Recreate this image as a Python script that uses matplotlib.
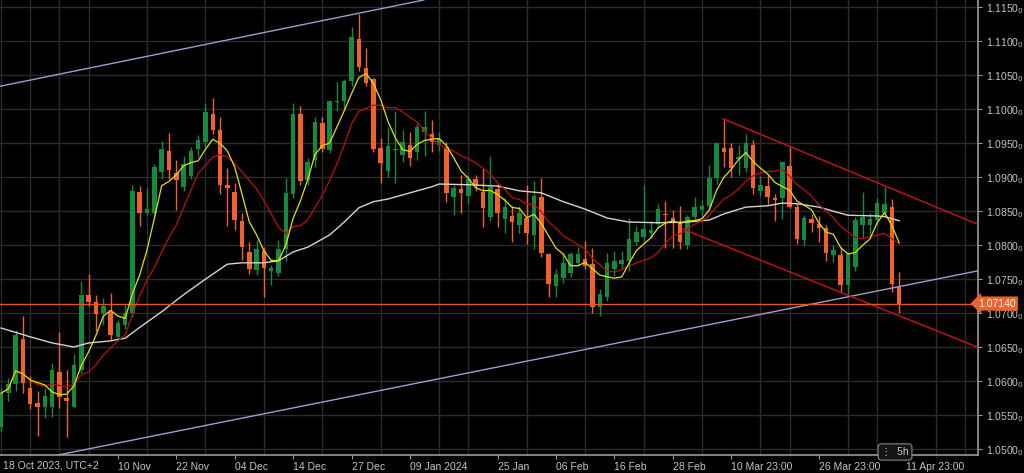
"""EUR/USD daily candles with moving averages and trend channels."""

import numpy as np
import pandas as pd
import matplotlib
matplotlib.use('Agg')
import matplotlib.pyplot as plt
import matplotlib.transforms as mtransforms
from matplotlib.ticker import MultipleLocator, FuncFormatter

plt.rcParams['font.family'] = ['Liberation Sans', 'DejaVu Sans']

# daily OHLC, 19 Oct 2023 .. 11 Apr 2024
opens = [
    1.0532, 1.0582, 1.0595, 1.0662, 1.0590, 1.0567, 1.0562, 1.0562, 1.0613, 1.0575,
    1.0562, 1.0616, 1.0726, 1.0716, 1.0700, 1.0702, 1.0665, 1.0683, 1.0700, 1.0878,
    1.0848, 1.0848, 1.0908, 1.0939, 1.0906, 1.0886, 1.0902, 1.0941, 1.0952, 1.0993,
    1.0970, 1.0888, 1.0878, 1.0836, 1.0790, 1.0764, 1.0791, 1.0762, 1.0759, 1.0795,
    1.0876, 1.0993, 1.0896, 1.0925, 1.0980, 1.0940, 1.1011, 1.1012, 1.1042, 1.1104,
    1.1061, 1.1045, 1.0943, 1.0909, 1.0940, 1.0933, 1.0948, 1.0937, 1.0966, 1.0964,
    1.0948, 1.0945, 1.0871, 1.0883, 1.0873, 1.0897, 1.0878, 1.0841, 1.0883, 1.0839,
    1.0843, 1.0830, 1.0840, 1.0815, 1.0871, 1.0787, 1.0740, 1.0752, 1.0759, 1.0774,
    1.0779, 1.0772, 1.0709, 1.0724, 1.0765, 1.0772, 1.0777, 1.0805, 1.0812, 1.0818,
    1.0831, 1.0846, 1.0840, 1.0831, 1.0800, 1.0841, 1.0852, 1.0857, 1.0899, 1.0943,
    1.0943, 1.0927, 1.0913, 1.0948, 1.0880, 1.0887, 1.0870, 1.0869, 1.0917, 1.0856,
    1.0808, 1.0838, 1.0831, 1.0826, 1.0786, 1.0786, 1.0741, 1.0768, 1.0830, 1.0830,
    1.0837, 1.0847, 1.0856, 1.0739]
highs = [
    1.0590, 1.0605, 1.0675, 1.0695, 1.0607, 1.0585, 1.0590, 1.0627, 1.0672, 1.0616,
    1.0640, 1.0747, 1.0757, 1.0727, 1.0722, 1.0730, 1.0690, 1.0712, 1.0888, 1.0887,
    1.0884, 1.0920, 1.0954, 1.0965, 1.0926, 1.0932, 1.0945, 1.0962, 1.1009, 1.1017,
    1.0989, 1.0914, 1.0892, 1.0848, 1.0804, 1.0807, 1.0798, 1.0771, 1.0808, 1.0899,
    1.1009, 1.1005, 1.0928, 1.0988, 1.0988, 1.1012, 1.1040, 1.1045, 1.1121, 1.1140,
    1.1090, 1.1046, 1.0958, 1.0974, 1.0998, 1.0970, 1.0966, 1.0980, 1.0998, 1.0984,
    1.0966, 1.0952, 1.0888, 1.0903, 1.0904, 1.0903, 1.0913, 1.0932, 1.0890, 1.0870,
    1.0858, 1.0858, 1.0888, 1.0895, 1.0899, 1.0788, 1.0765, 1.0788, 1.0790, 1.0797,
    1.0806, 1.0796, 1.0736, 1.0789, 1.0791, 1.0791, 1.0840, 1.0828, 1.0889, 1.0836,
    1.0860, 1.0865, 1.0852, 1.0858, 1.0845, 1.0871, 1.0866, 1.0918, 1.0951, 1.0984,
    1.0950, 1.0948, 1.0963, 1.0955, 1.0902, 1.0905, 1.0876, 1.0924, 1.0945, 1.0862,
    1.0845, 1.0846, 1.0843, 1.0830, 1.0800, 1.0798, 1.0790, 1.0842, 1.0878, 1.0848,
    1.0869, 1.0886, 1.0868, 1.0760]
lows = [
    1.0525, 1.0570, 1.0585, 1.0583, 1.0559, 1.0519, 1.0545, 1.0547, 1.0560, 1.0517,
    1.0560, 1.0612, 1.0710, 1.0674, 1.0683, 1.0661, 1.0661, 1.0677, 1.0694, 1.0828,
    1.0845, 1.0845, 1.0898, 1.0898, 1.0852, 1.0880, 1.0898, 1.0930, 1.0945, 1.0964,
    1.0876, 1.0828, 1.0822, 1.0778, 1.0758, 1.0756, 1.0724, 1.0741, 1.0754, 1.0776,
    1.0870, 1.0889, 1.0888, 1.0915, 1.0937, 1.0935, 1.0998, 1.1000, 1.1035, 1.1056,
    1.1035, 1.0937, 1.0892, 1.0900, 1.0892, 1.0923, 1.0917, 1.0925, 1.0932, 1.0937,
    1.0938, 1.0864, 1.0844, 1.0847, 1.0860, 1.0880, 1.0827, 1.0836, 1.0827, 1.0818,
    1.0804, 1.0818, 1.0802, 1.0795, 1.0783, 1.0724, 1.0723, 1.0745, 1.0753, 1.0770,
    1.0765, 1.0700, 1.0695, 1.0718, 1.0755, 1.0765, 1.0762, 1.0800, 1.0805, 1.0810,
    1.0827, 1.0796, 1.0796, 1.0795, 1.0795, 1.0835, 1.0840, 1.0852, 1.0890, 1.0915,
    1.0900, 1.0904, 1.0908, 1.0876, 1.0872, 1.0860, 1.0836, 1.0838, 1.0854, 1.0802,
    1.0800, 1.0820, 1.0805, 1.0777, 1.0775, 1.0731, 1.0725, 1.0762, 1.0810, 1.0810,
    1.0830, 1.0845, 1.0731, 1.0700]
closes = [
    1.0582, 1.0595, 1.0668, 1.0597, 1.0566, 1.0562, 1.0578, 1.0616, 1.0577, 1.0570,
    1.0624, 1.0727, 1.0717, 1.0698, 1.0710, 1.0668, 1.0685, 1.0700, 1.0880, 1.0848,
    1.0853, 1.0915, 1.0942, 1.0911, 1.0896, 1.0920, 1.0939, 1.0955, 1.0996, 1.0970,
    1.0889, 1.0884, 1.0837, 1.0797, 1.0765, 1.0794, 1.0766, 1.0766, 1.0795, 1.0877,
    1.0993, 1.0895, 1.0922, 1.0981, 1.0942, 1.1012, 1.1013, 1.1041, 1.1107, 1.1062,
    1.1039, 1.0942, 1.0921, 1.0946, 1.0942, 1.0952, 1.0929, 1.0974, 1.0974, 1.0952,
    1.0956, 1.0877, 1.0884, 1.0877, 1.0898, 1.0887, 1.0855, 1.0886, 1.0847, 1.0856,
    1.0834, 1.0847, 1.0818, 1.0872, 1.0788, 1.0743, 1.0757, 1.0774, 1.0787, 1.0787,
    1.0769, 1.0709, 1.0728, 1.0774, 1.0777, 1.0778, 1.0809, 1.0820, 1.0824, 1.0822,
    1.0853, 1.0844, 1.0836, 1.0804, 1.0841, 1.0856, 1.0858, 1.0899, 1.0950, 1.0937,
    1.0914, 1.0930, 1.0951, 1.0884, 1.0888, 1.0871, 1.0867, 1.0922, 1.0856, 1.0809,
    1.0840, 1.0833, 1.0826, 1.0788, 1.0793, 1.0741, 1.0787, 1.0837, 1.0841, 1.0839,
    1.0862, 1.0860, 1.0743, 1.0714]

# slow moving average (candle index, price)
slow_ma_idx = [0, 4, 7, 10, 12, 15, 17, 19, 22, 25, 28, 31, 33, 36, 38, 40, 42, 45,
               47, 49, 51, 53, 56, 59, 60, 64, 68, 71, 74, 77, 80, 83, 86, 90, 94,
               97, 99, 102, 105, 107, 109, 112, 116, 120, 121, 123]
slow_ma = [1.0678, 1.0665, 1.0656, 1.0650, 1.0656, 1.0659, 1.0663, 1.0679, 1.0702,
           1.0727, 1.0750, 1.0772, 1.0774, 1.0774, 1.0777, 1.0790, 1.0797, 1.0815,
           1.0834, 1.0855, 1.0864, 1.0868, 1.0877, 1.0886, 1.0890, 1.0889, 1.0887,
           1.0880, 1.0877, 1.0864, 1.0853, 1.0840, 1.0834, 1.0833, 1.0834, 1.0837,
           1.0846, 1.0856, 1.0858, 1.0862, 1.0861, 1.0856, 1.0844, 1.0843, 1.0842,
           1.0836]

# hand drawn lines: (x0, x1), (p0, p1) in candle index / price
channel_top = ([-0.14, 57.9], [1.1034, 1.1161])
channel_bottom = ([7.8, 133.7], [1.0491, 1.0762])
wedge_top = ([98.9, 133.7], [1.0986, 1.0831])
wedge_bottom = ([93.3, 133.7], [1.0824, 1.0650])

last_price = 1.07140

tick_idx = [16, 24, 32, 40, 48, 56, 68, 76, 84, 92, 100, 112, 124]
tick_labels = ['10 Nov', '22 Nov', '04 Dec', '14 Dec', '27 Dec', '09 Jan 2024',
               '25 Jan', '06 Feb', '16 Feb', '28 Feb', '10 Mar 23:00',
               '26 Mar 23:00', '11 Apr 23:00']
start_label = '18 Oct 2023, UTC+2'

UP = '#138a3e'
DOWN = '#f2602b'
TXT = '#c4c4c4'

o = np.array(opens)
h = np.array(highs)
l = np.array(lows)
c = np.array(closes)
x = np.arange(len(c))
cols = np.where(c >= o, UP, DOWN)

fig = plt.figure(figsize=(10.24, 4.73), dpi=100, facecolor='black')
ax = fig.add_axes([0, 18 / 473, 978 / 1024, 455 / 473], facecolor='black')

ax.set_xlim(-0.14, 133.8)
ax.set_ylim(1.0491, 1.1161)

# grid
ax.xaxis.set_minor_locator(MultipleLocator(4))
ax.yaxis.set_major_locator(MultipleLocator(0.005))
ax.grid(True, which='minor', axis='x', color='#2b2b2b', lw=1)
ax.grid(True, which='major', axis='y', color='#2b2b2b', lw=1)
ax.set_axisbelow(True)

# candles
ax.vlines(x, l, h, colors=cols, lw=1, zorder=2)
body = np.maximum(np.abs(c - o), 0.00006)
ax.bar(x, body, bottom=np.minimum(o, c), width=0.62, color=cols, lw=0, zorder=3)

# moving averages
fast = pd.Series(c).rolling(5, min_periods=1).mean()
mid = pd.Series(c).rolling(10, min_periods=1).mean()
ax.plot(slow_ma_idx, slow_ma, color='#d4d4d4', lw=1.0, zorder=4)
ax.plot(x, mid, color='#c00d0d', lw=0.9, zorder=4)
ax.plot(x, fast, color='#e2e200', lw=0.9, zorder=5)

# trend lines
ax.plot(*channel_top, color='#a898cc', lw=1.0, zorder=4)
ax.plot(*channel_bottom, color='#a898cc', lw=1.0, zorder=4)
ax.plot(*wedge_top, color='#d0101e', lw=1.0, zorder=4)
ax.plot(*wedge_bottom, color='#d0101e', lw=1.0, zorder=4)

ax.axhline(last_price, color='#e8561e', lw=1.0, zorder=4)

# axes styling
for side in ['top', 'left']:
    ax.spines[side].set_visible(False)
for side in ['bottom', 'right']:
    ax.spines[side].set_color('#9a9a9a')
    ax.spines[side].set_linewidth(1.2)

ax.yaxis.tick_right()
ax.yaxis.set_major_formatter(FuncFormatter(lambda v, p: '%.4f$_0$' % v))
ax.tick_params(axis='y', colors='#9a9a9a', labelcolor=TXT, labelsize=7.5,
               length=3, pad=3)
ax.set_xticks(tick_idx)
ax.set_xticklabels(tick_labels, ha='left')
ax.tick_params(axis='x', which='major', colors='#9a9a9a', labelcolor=TXT,
               labelsize=7.5, length=3, pad=2)
ax.tick_params(axis='x', which='minor', length=0)

fig.text(3 / 1024, 1 - 465 / 473, start_label, color=TXT, fontsize=7.5,
         ha='left', va='center')

# current price marker
trans = mtransforms.blended_transform_factory(ax.transAxes, ax.transData)
ax.text(997 / 978, last_price, '%.5f' % last_price, transform=trans,
        color='white', fontsize=7.5, ha='center', va='center', zorder=10,
        clip_on=False,
        bbox=dict(boxstyle='larrow,pad=0.2', fc='#f2602b', ec='none'))

# timeframe badge
fig.text(895 / 1024, 1 - 452 / 473, '\u22ee  5h', color=TXT, fontsize=7.5,
         ha='center', va='center',
         bbox=dict(boxstyle='round,pad=0.3', fc='#141414', ec='#8a8a8a', lw=0.8))

fig.savefig('out.png', dpi=100, facecolor='black')
